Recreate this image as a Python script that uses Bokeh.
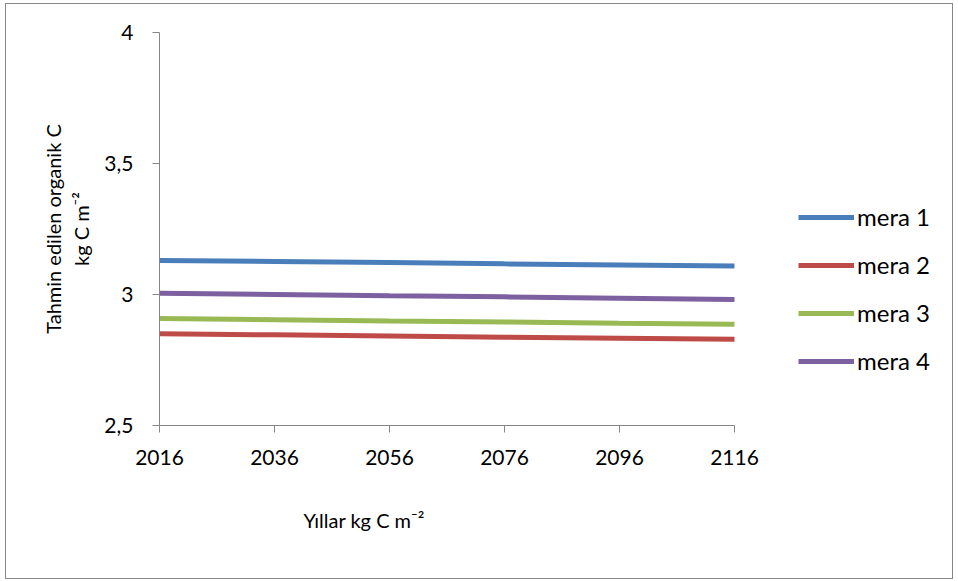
from bokeh.plotting import figure
from bokeh.models import Range1d, FixedTicker, Legend, LegendItem, Title
from bokeh.embed import file_html
from bokeh.resources import INLINE

# Years on the horizontal axis
years = [2016, 2036, 2056, 2076, 2096, 2116]

# Estimated organic carbon (kg C m-2) per pasture
mera_1 = [3.130, 3.126, 3.122, 3.117, 3.113, 3.109]
mera_2 = [2.850, 2.846, 2.842, 2.837, 2.833, 2.829]
mera_3 = [2.908, 2.904, 2.899, 2.895, 2.890, 2.886]
mera_4 = [3.005, 3.000, 2.995, 2.991, 2.986, 2.981]

series_names = ["mera 1", "mera 2", "mera 3", "mera 4"]
series_colors = ["#4A7EBB", "#BE4B48", "#98B954", "#7D60A0"]

y_ticks = [2.5, 3, 3.5, 4]
y_tick_labels = ["2,5", "3", "3,5", "4"]

y_title = "Tahmin edilen organik C\nkg C m⁻²"
x_title = "Yıllar kg C m⁻²"

FONT = "Lato"
AXIS_GREY = "#868686"

# Canvas geometry: the plotting frame runs on to the right edge so the
# legend can sit inside it; the x axis itself stops at the last year.
CANVAS_W, BORDER_L = 948, 153
AXIS_SPAN_PX = 575
frame_w = CANVAS_W - BORDER_L
x_start, x_stop = years[0], years[-1]
x_end = x_start + (x_stop - x_start) * frame_w / AXIS_SPAN_PX

p = figure(
    width=CANVAS_W, height=576,
    output_backend="svg", toolbar_location=None,
    x_range=Range1d(x_start, x_end), y_range=Range1d(2.5, 4),
    min_border_left=BORDER_L, min_border_right=0,
    min_border_top=28, min_border_bottom=155,
    margin=(3, 5, 2, 5),
)
p.styles = {"border": "1px solid #878787"}
p.outline_line_color = None
p.xgrid.visible = False
p.ygrid.visible = False

for ax in (p.xaxis, p.yaxis):
    ax.axis_line_color = AXIS_GREY
    ax.major_tick_line_color = AXIS_GREY
    ax.major_tick_out = 7
    ax.major_tick_in = 0
    ax.minor_tick_out = 0
    ax.minor_tick_in = 0
    ax.major_label_text_font = FONT
    ax.major_label_text_font_size = "21px"
    ax.major_label_text_color = "#000000"

p.xaxis.ticker = FixedTicker(ticks=years)
p.xaxis.bounds = (x_start, x_stop)
p.xaxis.major_label_standoff = 17
p.yaxis.ticker = FixedTicker(ticks=y_ticks)
p.yaxis.major_label_overrides = dict(zip(y_ticks, y_tick_labels))
p.yaxis.major_label_standoff = 19

p.yaxis.axis_label = y_title
p.yaxis.axis_label_text_font = FONT
p.yaxis.axis_label_text_font_size = "20px"
p.yaxis.axis_label_text_font_style = "normal"
p.yaxis.axis_label_text_color = "#000000"
p.yaxis.axis_label_standoff = 8

series = [mera_1, mera_2, mera_3, mera_4]
items = []
for name, vals, color in zip(series_names, series, series_colors):
    r = p.line(years, vals, line_color=color, line_width=5)
    items.append(LegendItem(label=name, renderers=[r]))

legend = Legend(
    items=items, location=(639, 50), orientation="vertical",
    glyph_width=56, glyph_height=20, label_height=20, spacing=19,
    padding=0, margin=0, border_line_color=None, background_fill_alpha=0,
    label_text_font=FONT, label_text_font_size="24px", label_standoff=3,
    label_text_color="#000000",
)
p.add_layout(legend, "center")

p.add_layout(Title(
    text=x_title, align="left", vertical_align="bottom",
    offset=144, standoff=76,
    text_font=FONT, text_font_size="20px", text_font_style="normal",
    text_color="#000000",
), "below")

open("out.html", "w").write(file_html(p, INLINE))
